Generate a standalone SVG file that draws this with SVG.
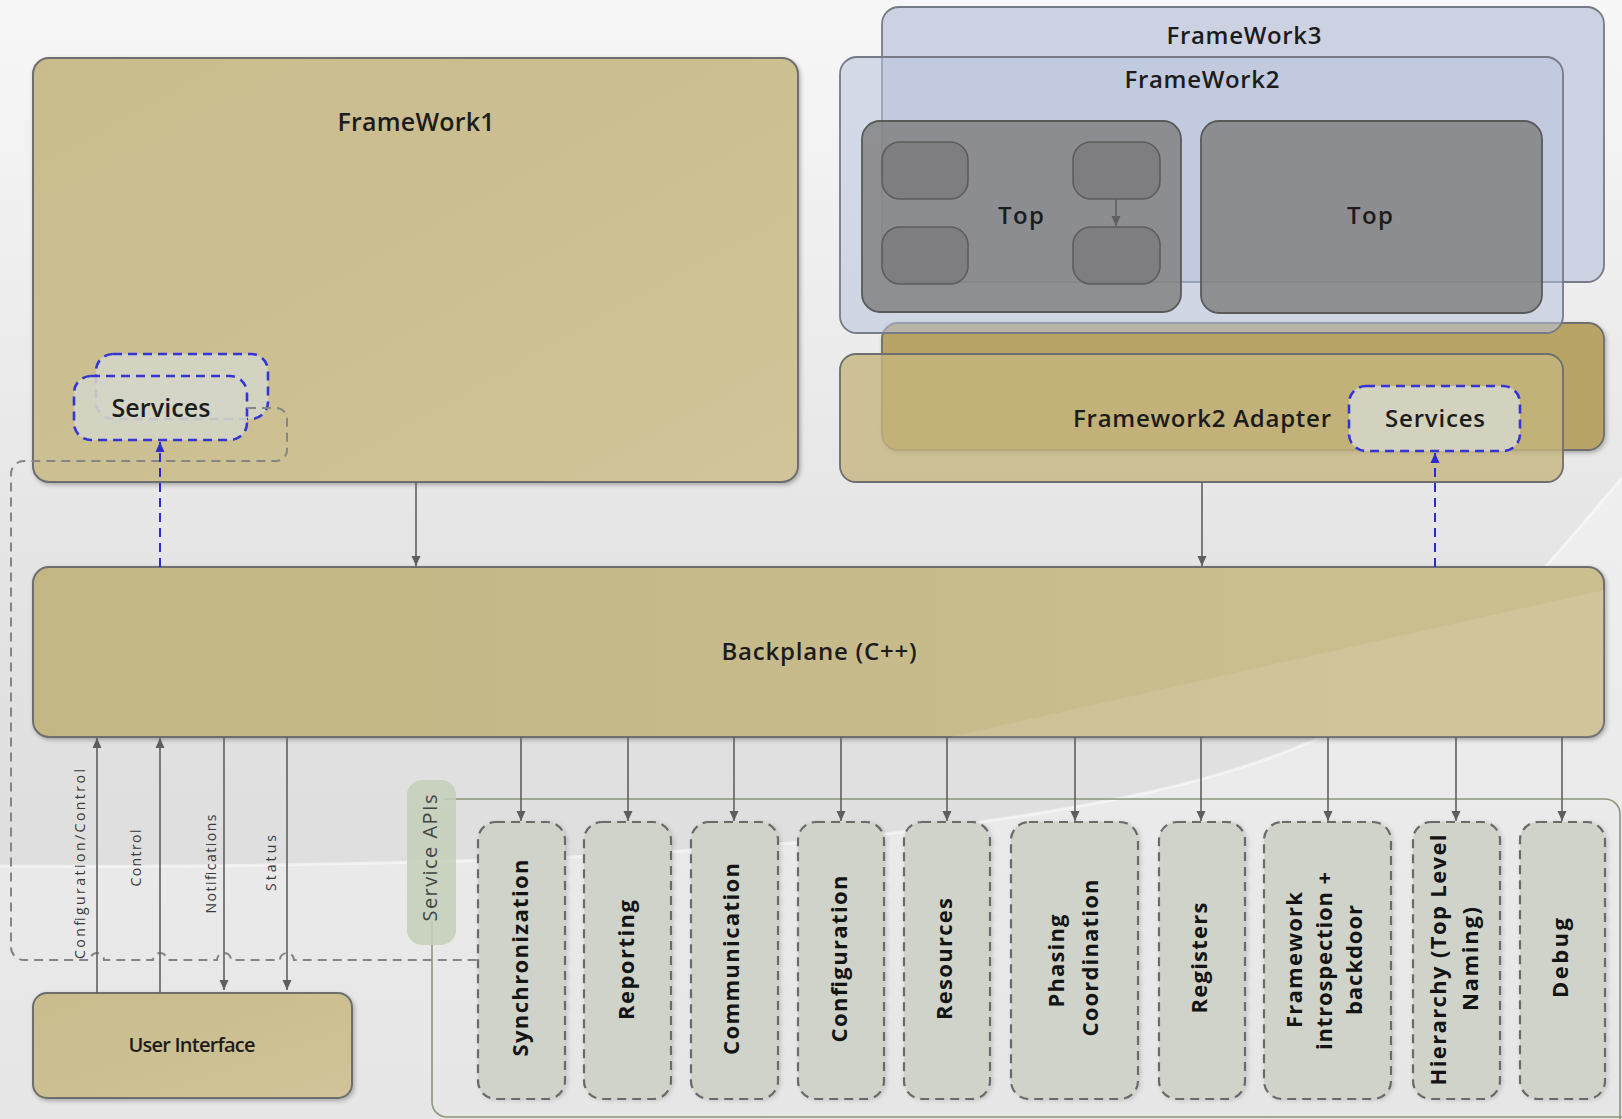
<svg xmlns="http://www.w3.org/2000/svg" width="1622" height="1119" viewBox="0 0 1622 1119">
<defs>
<linearGradient id="bg" x1="0" y1="0" x2="0" y2="1">
<stop offset="0" stop-color="#f7f7f7"/>
<stop offset="0.55" stop-color="#e3e3e3"/>
<stop offset="1" stop-color="#dadada"/>
</linearGradient>
<linearGradient id="swoosh" x1="0" y1="0" x2="0" y2="1">
<stop offset="0" stop-color="#efefef"/>
<stop offset="1" stop-color="#e6e6e6"/>
</linearGradient>
<linearGradient id="tan" x1="0" y1="0" x2="1" y2="1">
<stop offset="0" stop-color="#c8bb8c"/>
<stop offset="1" stop-color="#d0c498"/>
</linearGradient>
<linearGradient id="tanBp" x1="0" y1="0" x2="1" y2="0">
<stop offset="0" stop-color="#c3b685"/>
<stop offset="1" stop-color="#cbbf90"/>
</linearGradient>
<clipPath id="bpClip"><rect x="33" y="567" width="1571" height="170" rx="16"/></clipPath>
<filter id="sh" x="-5%" y="-5%" width="110%" height="115%">
<feDropShadow dx="1.5" dy="2" stdDeviation="2" flood-color="#000" flood-opacity="0.28"/>
</filter>
<filter id="sh2" x="-10%" y="-5%" width="125%" height="110%">
<feDropShadow dx="2" dy="1" stdDeviation="2" flood-color="#000" flood-opacity="0.15"/>
</filter>
<marker id="ag" markerUnits="userSpaceOnUse" markerWidth="10" markerHeight="10" refX="10" refY="5" orient="auto">
<path d="M0,0.5 L10,5 L0,9.5 z" fill="#5e5e5e"/>
</marker>
<marker id="ab" markerUnits="userSpaceOnUse" markerWidth="10" markerHeight="10" refX="10" refY="5" orient="auto">
<path d="M0,0.5 L10,5 L0,9.5 z" fill="#2b2bd0"/>
</marker>
<style>
.t{font-family:"Open Sans","Liberation Sans",sans-serif;fill:#1c1c1c;font-weight:600;text-anchor:middle}
.lb{font-family:"Open Sans","Liberation Sans",sans-serif;fill:#141414;font-weight:700;font-size:22px;text-anchor:middle}
.sm{font-family:"Open Sans","Liberation Sans",sans-serif;fill:#3a3a3a;font-size:14px;text-anchor:middle}
.tanbox{fill:url(#tan);stroke:#6e6e6e;stroke-width:2}
.blue{stroke:#777b88;stroke-width:1.8}
.topbox{fill:#828282;fill-opacity:0.85;stroke:#5a5a5a;stroke-width:1.8}
.small{fill:#6a6a6b;fill-opacity:0.4;stroke:#5c5c5c;stroke-width:1.6}
.svc{fill:#d4d5c6;fill-opacity:0.9;stroke:#3535d4;stroke-width:2.6;stroke-dasharray:9 6}
.api{fill:#cfd3c9;stroke:#6a6a6a;stroke-width:2.2;stroke-dasharray:9 6}
.conn{stroke:#606060;stroke-width:1.6;fill:none}
.bconn{stroke:#2b2bd0;stroke-width:2;stroke-dasharray:9 6;fill:none}
</style>
</defs>

<rect x="0" y="0" width="1622" height="1119" fill="url(#bg)"/>
<path d="M0,866 C500,868 880,852 1150,792 S1500,620 1622,478 L1622,1119 L0,1119 Z" fill="url(#swoosh)"/>
<path d="M0,866 C500,868 880,852 1150,792 S1500,620 1622,478" fill="none" stroke="#ffffff" stroke-opacity="0.5" stroke-width="3"/>

<g id="service-apis-group">
<path d="M444,799 H1605 A15 15 0 0 1 1620 814 V1119 M432,922 V1102 A15 15 0 0 0 447 1117 H1622" fill="none" stroke="#8c977c" stroke-width="1.6"/>
</g>

<g id="framework1">
<rect class="tanbox" x="33" y="58" width="765" height="424" rx="16" filter="url(#sh)"/>
<text class="t" x="416" y="131" font-size="25" textLength="157">FrameWork1</text>
</g>

<g id="framework3">
<rect x="882" y="7" width="722" height="275" rx="17" fill="#cdd2e3" class="blue"/>
<text class="t" x="1244" y="44" font-size="24" textLength="155">FrameWork3</text>
</g>

<g id="framework2-adapter-back">
<rect x="882" y="323" width="722" height="127" rx="16" fill="#b8a565" stroke="#6e6e6e" stroke-width="1.8" filter="url(#sh)"/>
</g>

<g id="framework2">
<rect x="840" y="57" width="723" height="276" rx="17" fill="#b9c2dc" fill-opacity="0.55" class="blue"/>
<text class="t" x="1202" y="88" font-size="24" textLength="155">FrameWork2</text>
</g>

<g id="top1">
<rect class="topbox" x="862" y="121" width="319" height="191" rx="18"/>
<rect class="small" x="882" y="142" width="86" height="57" rx="18"/>
<rect class="small" x="1073" y="142" width="87" height="57" rx="18"/>
<rect class="small" x="882" y="227" width="86" height="57" rx="18"/>
<rect class="small" x="1073" y="227" width="87" height="57" rx="18"/>
<line class="conn" x1="1116" y1="199" x2="1116" y2="226" marker-end="url(#ag)"/>
<text class="t" x="1021" y="224" font-size="24" textLength="46">Top</text>
</g>

<g id="top2">
<rect class="topbox" x="1201" y="121" width="341" height="192" rx="18"/>
<text class="t" x="1370" y="224" font-size="24" textLength="46">Top</text>
</g>

<g id="framework2-adapter">
<rect x="840" y="354" width="723" height="128" rx="16" fill="#c4b57e" fill-opacity="0.8" stroke="#6e6e6e" stroke-width="1.8"/>
<text class="t" x="1202" y="427" font-size="24" textLength="258">Framework2 Adapter</text>
</g>

<g id="services-adapter">
<rect class="svc" x="1349" y="386" width="171" height="65" rx="17"/>
<text class="t" x="1435" y="427" font-size="24" textLength="100">Services</text>
</g>

<g id="services-fw1">
<rect class="svc" x="96" y="354" width="172" height="65" rx="17"/>
<rect class="svc" x="74" y="376" width="173" height="64" rx="17"/>
<text class="t" x="161" y="417" font-size="25" textLength="99">Services</text>
</g>

<g id="backplane">
<rect x="33" y="567" width="1571" height="170" rx="16" fill="url(#tanBp)" stroke="#6e6e6e" stroke-width="2" filter="url(#sh)"/>
<polygon clip-path="url(#bpClip)" points="950,737 1604,590 1604,737" fill="#ffffff" fill-opacity="0.1"/>
<text class="t" x="819" y="660" font-size="24" textLength="195">Backplane (C++)</text>
</g>

<g id="user-interface">
<rect class="tanbox" x="33" y="993" width="319" height="105" rx="14" filter="url(#sh)"/>
<text class="t" x="192" y="1052" font-size="20" textLength="127">User Interface</text>
</g>

<g id="service-apis-label">
<rect x="407" y="780" width="49" height="165" rx="15" fill="#c3cfb9" fill-opacity="0.85"/>
<text transform="translate(431,858) rotate(-90)" x="0" y="5.5" font-family="'Open Sans','Liberation Sans',sans-serif" font-size="20" fill="#444" text-anchor="middle" textLength="127">Service APIs</text>
</g>

<g id="svc-synchronization">
<rect class="api" x="478" y="822" width="87" height="277" rx="18" filter="url(#sh2)"/>
<text class="lb" transform="translate(522,958) rotate(-90)" y="5.7" textLength="197">Synchronization</text>
</g>
<g id="svc-reporting">
<rect class="api" x="584" y="822" width="87" height="277" rx="18" filter="url(#sh2)"/>
<text class="lb" transform="translate(628,960) rotate(-90)" y="5.7" textLength="120">Reporting</text>
</g>
<g id="svc-communication">
<rect class="api" x="691" y="822" width="87" height="277" rx="18" filter="url(#sh2)"/>
<text class="lb" transform="translate(733,959) rotate(-90)" y="5.7" textLength="192">Communication</text>
</g>
<g id="svc-configuration">
<rect class="api" x="798" y="822" width="86" height="277" rx="18" filter="url(#sh2)"/>
<text class="lb" transform="translate(841,959) rotate(-90)" y="5.7" textLength="167">Configuration</text>
</g>
<g id="svc-resources">
<rect class="api" x="904" y="822" width="86" height="277" rx="18" filter="url(#sh2)"/>
<text class="lb" transform="translate(946,959) rotate(-90)" y="5.7" textLength="122">Resources</text>
</g>
<g id="svc-phasing">
<rect class="api" x="1011" y="822" width="127" height="277" rx="18" filter="url(#sh2)"/>
<text class="lb" transform="translate(1058,961) rotate(-90)" y="5.7" textLength="93">Phasing</text>
<text class="lb" transform="translate(1092,958) rotate(-90)" y="5.7" textLength="157">Coordination</text>
</g>
<g id="svc-registers">
<rect class="api" x="1159" y="822" width="86" height="277" rx="18" filter="url(#sh2)"/>
<text class="lb" transform="translate(1201,958) rotate(-90)" y="5.7" textLength="111">Registers</text>
</g>
<g id="svc-framework-introspection">
<rect class="api" x="1264" y="822" width="127" height="277" rx="18" filter="url(#sh2)"/>
<text class="lb" transform="translate(1296,960) rotate(-90)" y="5.7" textLength="136">Framework</text>
<text class="lb" transform="translate(1326,961) rotate(-90)" y="5.7" textLength="178">introspection +</text>
<text class="lb" transform="translate(1356,960) rotate(-90)" y="5.7" textLength="110">backdoor</text>
</g>
<g id="svc-hierarchy">
<rect class="api" x="1413" y="822" width="87" height="277" rx="18" filter="url(#sh2)"/>
<text class="lb" transform="translate(1440,960) rotate(-90)" y="5.7" textLength="251">Hierarchy (Top Level</text>
<text class="lb" transform="translate(1472,959) rotate(-90)" y="5.7" textLength="104">Naming)</text>
</g>
<g id="svc-debug">
<rect class="api" x="1520" y="822" width="85" height="277" rx="18" filter="url(#sh2)"/>
<text class="lb" transform="translate(1562,958) rotate(-90)" y="5.7" textLength="80">Debug</text>
</g>

<g id="connectors">
<path d="M247,408 H276 A11 11 0 0 1 287 419 V450 A11 11 0 0 1 276 461 H24 A13 13 0 0 0 11 474 V947 A13 13 0 0 0 24 960 H90 A7 7 0 0 1 104 960 H153 A7 7 0 0 1 167 960 H217 A7 7 0 0 1 231 960 H280 A7 7 0 0 1 294 960 H478" fill="none" stroke="#858585" stroke-width="2" stroke-dasharray="9 6"/>
<line class="bconn" x1="160" y1="567" x2="160" y2="442" marker-end="url(#ab)"/>
<line class="bconn" x1="1435" y1="567" x2="1435" y2="453" marker-end="url(#ab)"/>
<line class="conn" x1="416" y1="482" x2="416" y2="566" marker-end="url(#ag)"/>
<line class="conn" x1="1202" y1="482" x2="1202" y2="566" marker-end="url(#ag)"/>
<line class="conn" x1="97" y1="993" x2="97" y2="738" marker-end="url(#ag)"/>
<line class="conn" x1="160" y1="993" x2="160" y2="738" marker-end="url(#ag)"/>
<line class="conn" x1="224" y1="737" x2="224" y2="990" marker-end="url(#ag)"/>
<line class="conn" x1="287" y1="737" x2="287" y2="990" marker-end="url(#ag)"/>
<line class="conn" x1="521" y1="737" x2="521" y2="821" marker-end="url(#ag)"/>
<line class="conn" x1="628" y1="737" x2="628" y2="821" marker-end="url(#ag)"/>
<line class="conn" x1="734" y1="737" x2="734" y2="821" marker-end="url(#ag)"/>
<line class="conn" x1="841" y1="737" x2="841" y2="821" marker-end="url(#ag)"/>
<line class="conn" x1="947" y1="737" x2="947" y2="821" marker-end="url(#ag)"/>
<line class="conn" x1="1075" y1="737" x2="1075" y2="821" marker-end="url(#ag)"/>
<line class="conn" x1="1201" y1="737" x2="1201" y2="821" marker-end="url(#ag)"/>
<line class="conn" x1="1328" y1="737" x2="1328" y2="821" marker-end="url(#ag)"/>
<line class="conn" x1="1456" y1="737" x2="1456" y2="821" marker-end="url(#ag)"/>
<line class="conn" x1="1562" y1="737" x2="1562" y2="821" marker-end="url(#ag)"/>
<text class="sm" transform="translate(81,864) rotate(-90)" y="3.6" textLength="190">Configuration/Control</text>
<text class="sm" transform="translate(137,858) rotate(-90)" y="3.6" textLength="57">Control</text>
<text class="sm" transform="translate(212,864) rotate(-90)" y="3.6" textLength="99">Notifications</text>
<text class="sm" transform="translate(272,863) rotate(-90)" y="3.6" textLength="56">Status</text>
</g>
</svg>
